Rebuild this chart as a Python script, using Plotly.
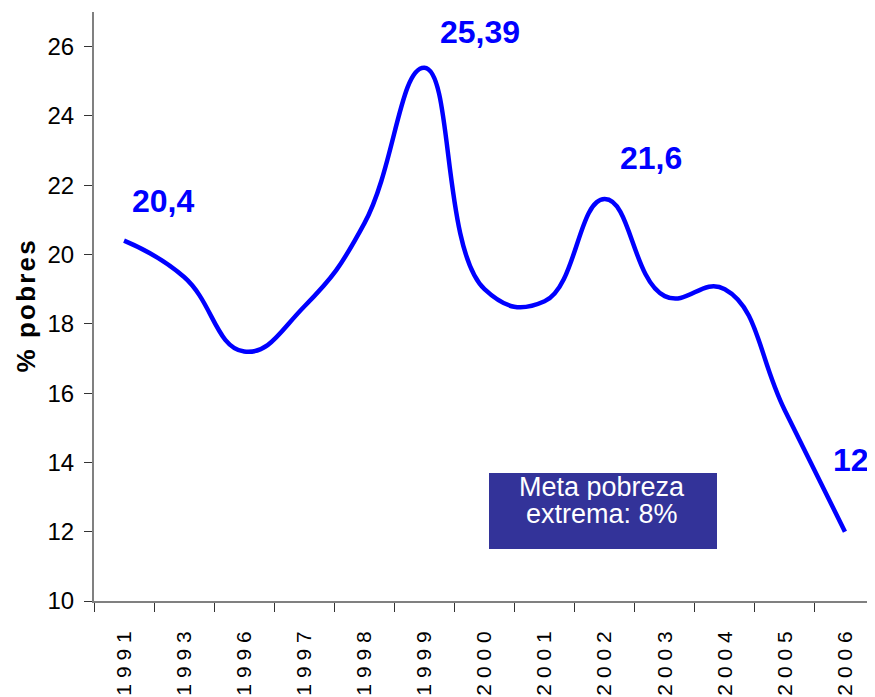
import plotly.graph_objects as go

years = ["1991", "1993", "1996", "1997", "1998", "1999", "2000",
         "2001", "2002", "2003", "2004", "2005", "2006"]
pobres = [20.4, 19.35, 17.2, 18.5, 20.9, 25.39, 19.0,
          18.65, 21.6, 18.8, 19.0, 15.5, 12.0]

# labelled points
lbl_years = ["1991", "1999", "2002", "2006"]
lbl_text = ["20,4", "25,39", "21,6", "12"]
lbl_vals = [20.4, 25.39, 21.6, 12.0]

y_ticks = [10, 12, 14, 16, 18, 20, 22, 24, 26]

BLUE = "#0000FF"
SANS = "Liberation Sans, Arial, sans-serif"
HS = "\u200a"  # hair space, used to open up the axis title a bit

# page adds an 8px body margin, so the figure is 8px smaller than the window
W, H = 867, 689
L, R, T, B = 86, 0, 4, 96
PW = W - L - R
PH = H - T - B


def px(x):
    return (x - 8 - L) / PW


def py(y):
    return (H - B - (y - 8)) / PH


fig = go.Figure()

fig.add_trace(go.Scatter(
    x=years, y=pobres,
    mode="lines",
    line=dict(color=BLUE, width=4.5, shape="spline", smoothing=1.3),
    showlegend=False,
    hoverinfo="x+y",
))

# value labels (category index, numeric strings would be read as serials)
offsets = [(39, 40), (56, 36), (46, 41), (6, 72)]
for yr, txt, v, (dx, dy) in zip(lbl_years, lbl_text, lbl_vals, offsets):
    fig.add_annotation(
        x=years.index(yr), y=v, text="<b>%s</b>" % txt, showarrow=False,
        xshift=dx, yshift=dy,
        font=dict(family=SANS, size=32, color=BLUE),
    )

# target box
fig.add_shape(
    type="rect", xref="paper", yref="paper",
    x0=px(489), x1=px(717), y0=py(549), y1=py(473),
    fillcolor="#333399", line=dict(width=0),
)
for txt, ty in [("Meta pobreza", 502), ("extrema: 8%", 529)]:
    fig.add_annotation(
        xref="paper", yref="paper", x=px(602), y=py(ty),
        text=txt, showarrow=False, height=26, valign="middle",
        font=dict(family=SANS, size=27, color="white"),
    )

fig.update_layout(
    width=W, height=H,
    margin=dict(l=L, r=R, t=T, b=B),
    paper_bgcolor="white", plot_bgcolor="white",
    font=dict(family=SANS, color="black"),
    showlegend=False,
    xaxis=dict(
        type="category",
        range=[-0.5, len(years) - 0.5],
        tickvals=years,
        ticktext=[" ".join(y) for y in years],
        tickangle=-90,
        tickson="boundaries",
        ticks="outside", ticklen=9, tickcolor="#333333",
        showline=True, linecolor="#808080", linewidth=2,
        showgrid=False, zeroline=False,
        tickfont=dict(size=21, color="black"),
        ticklabelstandoff=20,
        automargin=False,
    ),
    yaxis=dict(
        range=[10, 27],
        tickvals=y_ticks,
        ticks="outside", ticklen=8, tickcolor="#333333",
        showline=True, linecolor="#808080", linewidth=2,
        showgrid=False, zeroline=False,
        tickfont=dict(size=24, color="black"),
        ticklabelstandoff=5,
        automargin=False,
        title=dict(text="<b>" + HS.join("% pobres") + "</b>",
                   font=dict(size=26, color="black"), standoff=4),
    ),
)

fig.write_html("out.html")
